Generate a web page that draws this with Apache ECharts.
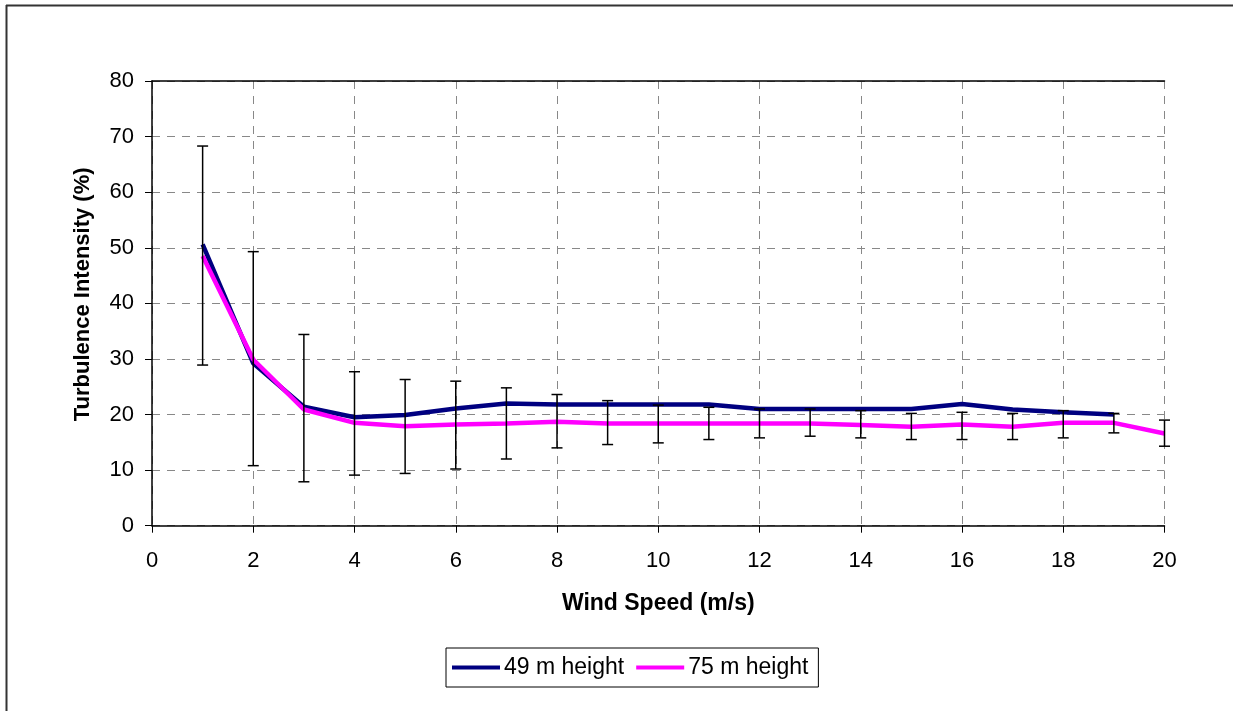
<!DOCTYPE html>
<html>
<head>
<meta charset="utf-8">
<script src="https://cdn.jsdelivr.net/npm/echarts@6/dist/echarts.min.js"></script>
<style>
html,body{margin:0;padding:0;background:#fff;}
#chart{width:1233px;height:711px;}
</style>
</head>
<body>
<div id="chart"></div>
<script>
// Wind speed bins (m/s)
const windSpeed = [1,2,3,4,5,6,7,8,9,10,11,12,13,14,15,16,17,18,19,20];
// Mean turbulence intensity (%) at 49 m (no value at 20 m/s)
const ti49 = [50.6,29.2,21.4,19.5,19.9,21.1,22.0,21.8,21.8,21.8,21.8,21.0,21.0,21.0,21.0,21.9,20.9,20.4,20.0,null];
// Mean turbulence intensity (%) at 75 m
const ti75 = [48.5,29.9,20.9,18.5,17.9,18.2,18.4,18.7,18.4,18.4,18.4,18.4,18.4,18.1,17.8,18.2,17.8,18.5,18.5,16.6];
// Error bar ranges (75 m): lower and upper
const errLow  = [28.9,10.8,7.9,9.1,9.4,10.2,12.0,14.0,14.6,14.9,15.5,15.8,16.1,15.8,15.5,15.5,15.5,15.8,16.7,14.3];
const errHigh = [68.3,49.3,34.4,27.7,26.3,26.0,24.8,23.6,22.5,21.7,21.3,21.0,21.0,20.7,20.2,20.4,20.2,20.7,20.2,19.0];
// Axis settings
const xTicks = {min:0, max:20, interval:2};
const yTicks = {min:0, max:80, interval:10};

const FONT = '"Liberation Sans", Arial, sans-serif';

const s49 = windSpeed.map((x,i)=>[x, ti49[i]]).filter(d=>d[1]!==null);
const s75 = windSpeed.map((x,i)=>[x, ti75[i]]);
const errData = windSpeed.map((x,i)=>[x, errLow[i], errHigh[i]]);

const chart = echarts.init(document.getElementById('chart'), null, {renderer:'canvas'});
chart.setOption({
  backgroundColor:'#fff',
  animation:false,
  graphic:[
    {type:'line', shape:{x1:6, y1:5.5, x2:1233, y2:5.5}, style:{stroke:'#333', lineWidth:2}, z:100},
    {type:'line', shape:{x1:6.5, y1:5, x2:6.5, y2:711}, style:{stroke:'#333', lineWidth:2}, z:100}
  ],
  grid:{left:152, right:68.5, top:81, bottom:185.3, containLabel:false},
  legend:{
    data:['49 m height','75 m height'],
    left:446, top:648,
    padding:[8,10,8,6],
    itemGap:12,
    itemWidth:48, itemHeight:4,
    icon:'rect',
    borderColor:'#000', borderWidth:1,
    textStyle:{fontFamily:FONT, fontSize:23, color:'#000', padding:[0,0,0,-1]}
  },
  xAxis:[{
    type:'value', min:xTicks.min, max:xTicks.max, interval:xTicks.interval,
    name:'Wind Speed (m/s)', nameLocation:'middle', nameGap:66,
    nameTextStyle:{fontFamily:FONT, fontSize:23, fontWeight:'bold', color:'#000'},
    axisLine:{lineStyle:{color:'#000', width:1.5}},
    axisTick:{show:true, length:7, lineStyle:{color:'#000'}},
    axisLabel:{fontFamily:FONT, fontSize:22, color:'#000', margin:24},
    splitLine:{show:true, lineStyle:{color:'#888', type:[8,7], width:1}}
  },{
    type:'value', position:'top', min:xTicks.min, max:xTicks.max, interval:xTicks.interval,
    axisLine:{show:true, lineStyle:{color:'#000', width:1.5}},
    axisTick:{show:false}, axisLabel:{show:false}, splitLine:{show:false}
  }],
  yAxis:{
    type:'value', min:yTicks.min, max:yTicks.max, interval:yTicks.interval,
    name:'Turbulence Intensity (%)', nameLocation:'middle', nameGap:58,
    nameTextStyle:{fontFamily:FONT, fontSize:22, fontWeight:'bold', color:'#000', padding:[0,0,0,18]},
    axisLine:{show:true, lineStyle:{color:'#000', width:1.5}},
    axisTick:{show:true, length:7, lineStyle:{color:'#000'}},
    axisLabel:{fontFamily:FONT, fontSize:22, color:'#000', margin:18},
    splitLine:{show:true, lineStyle:{color:'#888', type:[8,7], width:1}}
  },
  series:[
    {
      name:'error', type:'custom', xAxisIndex:0,
      data:errData,
      renderItem:function(params, api){
        const x = api.value(0);
        const lo = api.coord([x, api.value(1)]);
        const hi = api.coord([x, api.value(2)]);
        const cap = 5.5;
        const st = {stroke:'#000', lineWidth:1.5};
        return {type:'group', children:[
          {type:'line', shape:{x1:lo[0], y1:lo[1], x2:hi[0], y2:hi[1]}, style:st},
          {type:'line', shape:{x1:lo[0]-cap, y1:lo[1], x2:lo[0]+cap, y2:lo[1]}, style:st},
          {type:'line', shape:{x1:hi[0]-cap, y1:hi[1], x2:hi[0]+cap, y2:hi[1]}, style:st}
        ]};
      },
      z:5, silent:true
    },
    {
      name:'75 m height', type:'line', data:s75, symbol:'none',
      lineStyle:{color:'#ff00ff', width:4.5}, itemStyle:{color:'#ff00ff'}, z:3
    },
    {
      name:'49 m height', type:'line', data:s49, symbol:'none',
      lineStyle:{color:'#000080', width:4.5}, itemStyle:{color:'#000080'}, z:2
    }
  ]
});
</script>
</body>
</html>
